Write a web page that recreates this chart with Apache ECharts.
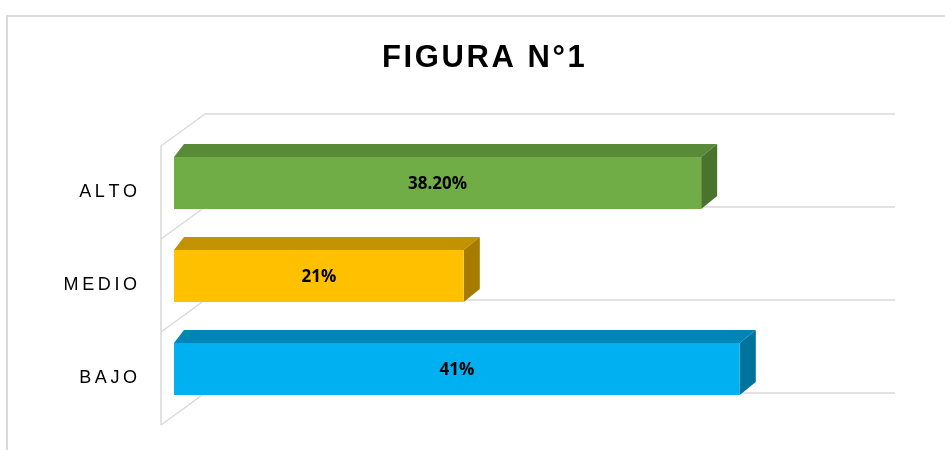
<!DOCTYPE html>
<html lang="es">
  <head>
    <meta charset="UTF-8" />
    <title>FIGURA N°1</title>
    <script src="https://cdn.jsdelivr.net/npm/echarts@6/dist/echarts.min.js"></script>
    <style>
      * {
        margin: 0;
        padding: 0;
      }
      body {
        background: #fff;
      }
    </style>
  </head>
  <body>
    <div id="main" style="width: 945px; height: 450px"></div>
    <script>
      var titulo = 'FIGURA N°1';
      var categorias = ['ALTO', 'MEDIO', 'BAJO'];
      var valores = [38.2, 21, 41];
      var etiquetas = ['38.20%', '21%', '41%'];
      var colores = [
        { front: '#70ad47', top: '#588a37', side: '#4a732d' },
        { front: '#ffc000', top: '#c29200', side: '#a57c00' },
        { front: '#00b0f0', top: '#0085b5', side: '#00739c' }
      ];

      // profundidad de la pared y de las barras (efecto 3D)
      var wallDx = 44, wallDy = -32;
      var barDx = 13, barDy = -9.5;
      var barH = 52;

      // separar letras con espacios finos
      function espaciar(txt, sp) {
        return txt.split('').join(sp);
      }

      var myChart = echarts.init(document.getElementById('main'));

      function renderWall(params, api) {
        var i = api.value(0);
        var c = api.coord([0, i]);
        var band = api.size([0, 1])[1];
        var xEnd = api.coord([50, i])[0];
        var style = { stroke: '#d9d9d9', lineWidth: 1.5 };
        var children = [];
        var ys = [c[1] - band / 2];
        if (i === categorias.length - 1) ys.push(c[1] + band / 2);
        ys.forEach(function (fy) {
          children.push({
            type: 'line',
            shape: { x1: c[0], y1: fy, x2: c[0] + wallDx, y2: fy + wallDy },
            style: style
          });
          children.push({
            type: 'line',
            shape: { x1: c[0] + wallDx, y1: fy + wallDy, x2: xEnd + wallDx, y2: fy + wallDy },
            style: style
          });
        });
        children.push({
          type: 'line',
          shape: { x1: c[0], y1: c[1] - band / 2, x2: c[0], y2: c[1] + band / 2 },
          style: style
        });
        return { type: 'group', children: children };
      }

      function renderBar(params, api) {
        var i = api.value(0);
        var v = api.value(1);
        var p0 = api.coord([0, i]);
        var p1 = api.coord([v, i]);
        var x0 = p0[0] + barDx;
        var x1 = p1[0] + barDx;
        var yc = p0[1] + barDy;
        var yt = yc - barH / 2;
        var yb = yc + barH / 2;
        var col = colores[i];
        return {
          type: 'group',
          children: [
            {
              type: 'polygon',
              shape: { points: [[x0, yt], [x0 + 10, yt - 13], [x1 + 16, yt - 13], [x1, yt]] },
              style: { fill: col.top }
            },
            {
              type: 'polygon',
              shape: { points: [[x1, yt], [x1 + 16, yt - 13], [x1 + 16, yb - 13], [x1, yb]] },
              style: { fill: col.side }
            },
            {
              type: 'rect',
              shape: { x: x0, y: yt, width: x1 - x0, height: barH },
              style: { fill: col.front }
            },
            {
              type: 'text',
              x: (x0 + x1) / 2,
              y: yc + 1,
              style: {
                text: etiquetas[i],
                fill: '#000',
                font: 'bold 17px "Open Sans"',
                align: 'center',
                verticalAlign: 'middle'
              }
            }
          ]
        };
      }

      myChart.setOption({
        animation: false,
        title: {
          text: espaciar(titulo, '\u200a'),
          left: 377,
          top: 38,
          textStyle: {
            fontFamily: 'Liberation Sans',
            fontSize: 31,
            fontWeight: 'bold',
            color: '#000'
          }
        },
        graphic: [
          {
            type: 'rect',
            shape: { x: 7, y: 16, width: 1000, height: 500 },
            style: { fill: 'none', stroke: '#d9d9d9', lineWidth: 2 }
          }
        ],
        grid: { left: 161, right: 94, top: 146, bottom: 25 },
        xAxis: {
          type: 'value',
          min: 0,
          max: 50,
          show: false
        },
        yAxis: {
          type: 'category',
          data: categorias,
          inverse: true,
          axisLine: { show: false },
          axisTick: { show: false },
          splitLine: { show: false },
          axisLabel: {
            margin: 24,
            padding: [7, 0, 0, 0],
            color: '#000',
            fontFamily: 'Liberation Sans',
            fontSize: 18,
            formatter: function (v) {
              return espaciar(v, '\u2009');
            }
          }
        },
        series: [
          {
            type: 'custom',
            name: 'pared',
            renderItem: renderWall,
            silent: true,
            data: categorias.map(function (c, i) {
              return [i, 0];
            }),
            z: 1
          },
          {
            type: 'custom',
            name: 'valores',
            renderItem: renderBar,
            data: valores.map(function (v, i) {
              return [i, v];
            }),
            z: 2
          }
        ]
      });
    </script>
  </body>
</html>
